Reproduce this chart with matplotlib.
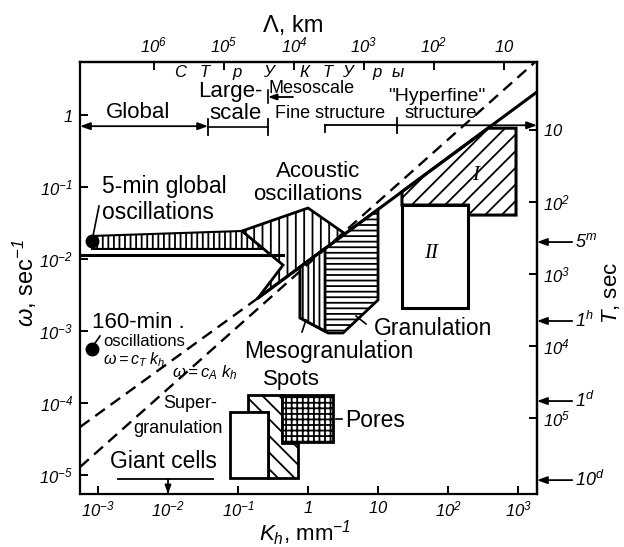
import numpy as np
import matplotlib
matplotlib.use("Agg")
import matplotlib.pyplot as plt
from matplotlib.patches import Polygon, Rectangle
from matplotlib.lines import Line2D
from matplotlib.ticker import NullLocator

plt.rcParams['font.family'] = ['Liberation Sans', 'DejaVu Sans']
plt.rcParams['mathtext.fontset'] = 'custom'
plt.rcParams['mathtext.rm'] = 'Liberation Sans:italic'
plt.rcParams['mathtext.it'] = 'Liberation Sans:italic'
plt.rcParams['hatch.linewidth'] = 1.3
plt.rcParams['hatch.color'] = 'black'

# axis ranges: K_h (mm^-1) and omega (sec^-1)
k_range = [5.53e-4, 1866]
w_range = [5.45e-6, 5.45]

k_ticks = [1e-3, 1e-2, 1e-1, 1, 10, 1e2, 1e3]
k_labels = ['$10^{-3}$', '$10^{-2}$', '$10^{-1}$', '$1$', '$10$', '$10^{2}$', '$10^{3}$']
w_ticks = [1e-5, 1e-4, 1e-3, 1e-2, 1e-1, 1]
w_labels = ['$10^{-5}$', '$10^{-4}$', '$10^{-3}$', '$10^{-2}$', '$10^{-1}$', '$1$']
lam_ticks = [1e6, 1e5, 1e4, 1e3, 1e2, 10]
lam_labels = ['$10^{6}$', '$10^{5}$', '$10^{4}$', '$10^{3}$', '$10^{2}$', '$10$']
T_ticks = [10, 1e2, 1e3, 1e4, 1e5]
T_labels = ['$10$', '$10^{2}$', '$10^{3}$', '$10^{4}$', '$10^{5}$']
T_marks = [365, 4560, 5.9e4, 7.4e5]
T_mark_labels = ['$5^{m}$', '$1^{h}$', '$1^{d}$', '$10^{d}$']

# regions
band_k = [8.2e-4, 0.114, 0.23, 8.2e-4]
band_w = [0.0209, 0.0245, 0.0138, 0.0138]
acoustic_k = [0.114, 1.0, 3.38, 0.193, 0.44]
acoustic_w = [0.0245, 0.0511, 0.0224, 2.87e-3, 8.25e-3]
gran_k = [0.77, 10, 10, 3.16, 1.93, 0.77]
gran_w = [7.74e-3, 0.0489, 2.70e-3, 9.38e-4, 9.38e-4, 1.52e-3]
meso_k = [0.77, 1.75, 1.75, 0.77]
meso_w = [7.74e-3, 0.01396, 1.0e-3, 1.52e-3]
region1_k = [22, 373, 936, 936, 193, 193, 22]
region1_w = [0.0861, 0.656, 0.656, 0.0408, 0.0408, 0.0562, 0.0562]
region2_k = [22, 193]
region2_w = [2.09e-3, 0.0562]
superg_k = [0.0769, 0.268]
superg_w = [9.09e-6, 7.5e-5]
spots_k = [0.139, 0.425, 0.425, 0.72, 0.72, 0.268, 0.268, 0.139]
spots_w = [1.29e-4, 1.29e-4, 2.78e-5, 2.78e-5, 9.09e-6, 9.09e-6, 7.5e-5, 7.5e-5]
pores_k = [0.425, 2.28]
pores_w = [2.87e-5, 1.29e-4]

# lines
dashed1_k = [5.53e-4, 0.193]
dashed1_w = [4.64e-5, 2.87e-3]
solid_k = [0.193, 1866]
solid_w = [2.87e-3, 2.09]
dashed2_k = [5.53e-4, 1750]
dashed2_w = [1.29e-5, 5.44]
const_k = [5.53e-4, 0.44]
const_w = [0.0114, 0.0114]
dots_k = [8.2e-4, 8.2e-4]
dots_w = [0.0178, 5.6e-4]

# scale ranges along top (k boundaries)
scale_bounds_k = [0.0373, 0.268, 1.75, 18.7]
giant_k = [1.93e-3, 0.044]
giant_w = 8.8e-6
giant_arrow_k = 0.01

W, H = 624, 547
fig = plt.figure(figsize=(W / 100, H / 100), dpi=100)
ax = fig.add_axes([80 / W, 1 - 494 / H, 457 / W, 432 / H])
ax.set_xscale('log')
ax.set_yscale('log')
ax.set_xlim(k_range)
ax.set_ylim(w_range)


def px(x, y):
    return x / W, 1 - y / H


def fline(x0, y0, x1, y1, lw=1.2):
    a, b = px(x0, y0)
    c, d = px(x1, y1)
    fig.add_artist(Line2D([a, c], [b, d], color='k', lw=lw))


def poly(k, w, hatch=None, lw=2.0, z=2):
    p = Polygon(np.column_stack([k, w]), closed=True, facecolor='white',
                edgecolor='black', hatch=hatch, lw=lw, zorder=z)
    ax.add_patch(p)


def rect(k, w, hatch=None, lw=2.0, z=2):
    r = Rectangle((k[0], w[0]), k[1] - k[0], w[1] - w[0], facecolor='white',
                  edgecolor='black', hatch=hatch, lw=lw, zorder=z)
    ax.add_patch(r)


poly(band_k, band_w, hatch='|||', lw=1.5)
poly(acoustic_k, acoustic_w, hatch='||', lw=2)
poly(gran_k, gran_w, hatch='---', lw=2)
poly(meso_k, meso_w, hatch='|||', lw=2, z=3)
poly(region1_k, region1_w, hatch='//', lw=2.2)
rect(region2_k, region2_w, lw=2.2)
poly(spots_k, spots_w, hatch='\\\\', lw=2)
rect(superg_k, superg_w, lw=2)
rect(pores_k, pores_w, hatch='+++', lw=2)

ax.plot(dashed1_k, dashed1_w, color='k', lw=1.7, dashes=(5, 3), zorder=4)
ax.plot(dashed2_k, dashed2_w, color='k', lw=1.7, dashes=(5, 3), zorder=4)
ax.plot(solid_k, solid_w, color='k', lw=2.2, zorder=4)
ax.plot(const_k, const_w, color='k', lw=2.2, zorder=4)
ax.plot(dots_k, dots_w, 'o', color='k', ms=9, zorder=5, clip_on=False)

# range brackets at the top
arr = dict(color='k', lw=1.3, shrinkA=0, shrinkB=0)
ax.annotate('', xy=(k_range[0], 0.70), xytext=(scale_bounds_k[0], 0.70),
            arrowprops=dict(arrowstyle='<|-|>,head_length=0.6,head_width=0.22', **arr))
ax.plot([scale_bounds_k[0], scale_bounds_k[1]], [0.69, 0.69], color='k', lw=1.2)
for kb in scale_bounds_k[:2]:
    ax.plot([kb, kb], [0.53, 0.88], color='k', lw=1.3)
ax.annotate('', xy=(scale_bounds_k[1], 1.78), xytext=(0.61, 1.78),
            arrowprops=dict(arrowstyle='-|>,head_length=0.5,head_width=0.18', **arr))
ax.plot([scale_bounds_k[1], scale_bounds_k[1]], [1.45, 2.25], color='k', lw=1.2)
ax.plot([scale_bounds_k[2], scale_bounds_k[3]], [0.726, 0.726], color='k', lw=1.3)
ax.plot([scale_bounds_k[2], scale_bounds_k[2]], [0.726, 0.58], color='k', lw=1.3)
ax.plot([scale_bounds_k[3], scale_bounds_k[3]], [0.56, 0.92], color='k', lw=1.3)
ax.annotate('', xy=(k_range[1], 0.72), xytext=(scale_bounds_k[3], 0.72),
            arrowprops=dict(arrowstyle='-|>,head_length=0.6,head_width=0.22', **arr),
            annotation_clip=False)

# giant cells marker
ax.plot(giant_k, [giant_w, giant_w], color='k', lw=1.3)
ax.annotate('', xy=(giant_arrow_k, w_range[0]), xytext=(giant_arrow_k, giant_w),
            arrowprops=dict(arrowstyle='-|>,head_length=0.5,head_width=0.18', **arr))

# axes styling
for s in ax.spines.values():
    s.set_linewidth(1.6)
ax.set_xticks(k_ticks, k_labels)
ax.set_yticks(w_ticks, w_labels)
ax.minorticks_off()
ax.tick_params(axis='x', which='major', direction='in', length=6, width=1.4,
               labelsize=12, pad=4)
ax.tick_params(axis='y', which='major', direction='in', length=6, width=1.4,
               labelsize=12, pad=5)


def lam_of_k(k):
    k = np.asarray(k, dtype=float)
    with np.errstate(divide='ignore'):
        return 2 * np.pi * 1e3 / k


def T_of_w(w):
    w = np.asarray(w, dtype=float)
    with np.errstate(divide='ignore'):
        return 2 * np.pi / w


secx = ax.secondary_xaxis('top', functions=(lam_of_k, lam_of_k))
secx.set_xticks(lam_ticks, lam_labels)
secx.xaxis.set_minor_locator(NullLocator())
secx.tick_params(direction='in', length=6, width=1.4, labelsize=12, pad=5)
secx.spines['top'].set_linewidth(1.6)

secy = ax.secondary_yaxis('right', functions=(T_of_w, T_of_w))
secy.set_yticks(T_ticks, T_labels)
secy.yaxis.set_minor_locator(NullLocator())
secy.tick_params(direction='in', length=6, width=1.4, labelsize=12, pad=4)
secy.spines['right'].set_linewidth(1.6)

for T, lab in zip(T_marks, T_mark_labels):
    w = 2 * np.pi / T
    ax.annotate('', xy=(1.0, w), xycoords=('axes fraction', 'data'),
                xytext=(1.077, w), textcoords=('axes fraction', 'data'),
                arrowprops=dict(arrowstyle='-|>,head_length=0.6,head_width=0.22', **arr),
                annotation_clip=False)
    ax.text(1.084, w, lab, transform=ax.get_yaxis_transform(), ha='left',
            va='center', fontsize=13)

# axis titles
fig.text(*px(293, 32), 'Λ, km', ha='center', va='baseline', fontsize=17)
fig.text(*px(305, 541), '$K_h$, mm$^{-1}$', ha='center', va='baseline', fontsize=16)
fig.text(*px(25, 283), '$\\omega$, sec$^{-1}$', ha='center', va='center',
         rotation=90, fontsize=17)
fig.text(*px(611, 293), '$T$, sec', ha='center', va='center', rotation=90, fontsize=16)

# Cyrillic "structures" across the top
cyr = ['С', 'Т', 'р', 'У', 'К', 'Т', 'У', 'р', 'ы']
cyr_x = [180, 205, 237, 268, 304, 328, 347, 377, 398]
for ch, x in zip(cyr, cyr_x):
    fig.text(*px(x, 77), ch, ha='center', va='baseline', fontsize=12, style='italic')

labels = [
    ('Global', 138, 118, 'center', 16),
    ('Large-', 230, 97, 'center', 16),
    ('scale', 235, 119, 'center', 16),
    ('Mesoscale', 312, 93, 'center', 13),
    ('Fine structure', 330, 118, 'center', 13),
    ('"Hyperfine"', 437, 101, 'center', 14),
    ('structure', 441, 118, 'center', 13.5),
    ('5-min global', 102, 193, 'left', 16.5),
    ('oscillations', 102, 219, 'left', 16.5),
    ('Acoustic', 318, 177, 'center', 16),
    ('oscillations', 308, 200, 'center', 16),
    ('Granulation', 433, 335, 'center', 16.5),
    ('Mesogranulation', 329, 358, 'center', 16.5),
    ('Spots', 291, 385, 'center', 16),
    ('Pores', 345, 427, 'left', 16.5),
    ('160-min .', 92, 328, 'left', 16),
    ('oscillations', 103, 346, 'left', 12),
    ('Super-', 163, 408, 'left', 13),
    ('granulation', 133, 433, 'left', 13),
    ('Giant cells', 110, 468, 'left', 16.5),
]
for t, x, y, ha, fs in labels:
    fig.text(*px(x, y), t, ha=ha, va='baseline', fontsize=fs)

fig.text(*px(103, 364), '$\\omega = c_T\\ k_h$', ha='left', va='baseline', fontsize=11.5)
fig.text(*px(172, 377), '$\\omega = c_A\\ k_h$', ha='left', va='baseline', fontsize=12)
fig.text(*px(476, 175), 'I', ha='center', va='center', fontsize=15,
         family='Liberation Serif', style='italic')
fig.text(*px(431, 254), 'II', ha='center', va='center', fontsize=15,
         family='Liberation Serif', style='italic')

# leader lines
fline(93, 236, 99, 206)
fline(93, 346, 100, 336)
fline(366, 324, 356, 316)
fline(306, 320, 302, 332)
fline(336, 419, 342, 419)

fig.savefig('out.png', dpi=100)
